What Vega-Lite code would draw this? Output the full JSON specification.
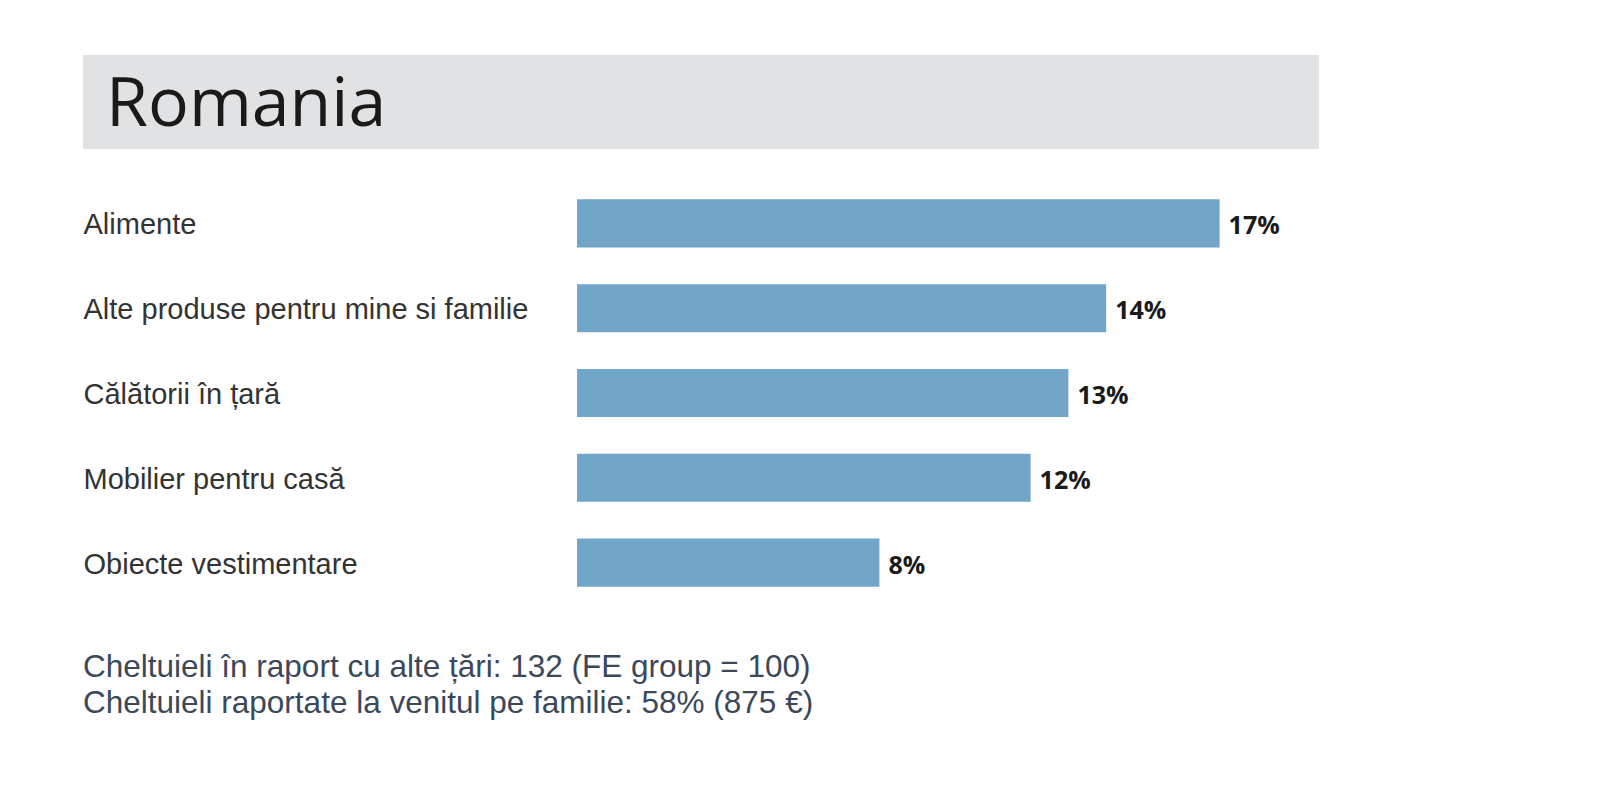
{
  "$schema": "https://vega.github.io/schema/vega-lite/v6.json",
  "background": "white",
  "padding": {"left": 83, "top": 55, "right": 0, "bottom": 0},
  "config": {"view": {"stroke": null}},
  "datasets": {
    "country": [{"country": "Romania"}],
    "spend": [
      {"category": "Alimente", "value": 0.17},
      {"category": "Alte produse pentru mine si familie", "value": 0.14},
      {"category": "Călătorii în țară", "value": 0.13},
      {"category": "Mobilier pentru casă", "value": 0.12},
      {"category": "Obiecte vestimentare", "value": 0.08}
    ]
  },
  "vconcat": [
    {
      "width": 1236,
      "height": 94,
      "view": {"fill": "#e1e2e4", "stroke": null},
      "data": {"name": "country"},
      "mark": {"type": "text", "font": "Open Sans", "fontSize": 68, "align": "left", "baseline": "middle", "dx": 23, "dy": 4, "color": "#1a1a1a"},
      "encoding": {
        "x": {"datum": 0, "type": "quantitative", "scale": {"domain": [0, 1]}, "axis": null},
        "y": {"datum": 0.5, "type": "quantitative", "scale": {"domain": [0, 1]}, "axis": null},
        "text": {"field": "country"}
      }
    },
    {
      "width": 1250,
      "height": 424,
      "data": {"name": "spend"},
      "title": {
        "text": ["Cheltuieli în raport cu alte țări: 132 (FE group = 100)", "Cheltuieli raportate la venitul pe familie: 58% (875 €)"],
        "orient": "bottom",
        "anchor": "start",
        "frame": "bounds",
        "font": "Liberation Sans",
        "fontSize": 31.5,
        "fontWeight": "normal",
        "color": "#3b4859",
        "lineHeight": 36,
        "offset": 47
      },
      "encoding": {
        "y": {
          "field": "category",
          "type": "nominal",
          "sort": null,
          "scale": {"paddingInner": 0.433, "paddingOuter": 0.2165},
          "axis": {
            "title": null,
            "domain": false,
            "ticks": false,
            "grid": false,
            "labelAlign": "left",
            "labelBaseline": "middle",
            "labelPadding": 0,
            "labelOffset": 2,
            "labelLimit": 600,
            "labelFont": "Liberation Sans",
            "labelFontSize": 29,
            "labelColor": "#333333"
          }
        },
        "x": {"field": "value", "type": "quantitative", "scale": {"domain": [-0.1307, 0.2], "nice": false}, "axis": null}
      },
      "layer": [
        {"mark": {"type": "bar", "color": "#72a6c8"}},
        {
          "mark": {"type": "text", "align": "left", "baseline": "middle", "dx": 9, "dy": 3, "font": "Open Sans", "fontWeight": "bold", "fontSize": 25, "color": "#1a1a1a"},
          "encoding": {"text": {"field": "value", "type": "quantitative", "format": ".0%"}}
        }
      ]
    }
  ],
  "spacing": 32
}
